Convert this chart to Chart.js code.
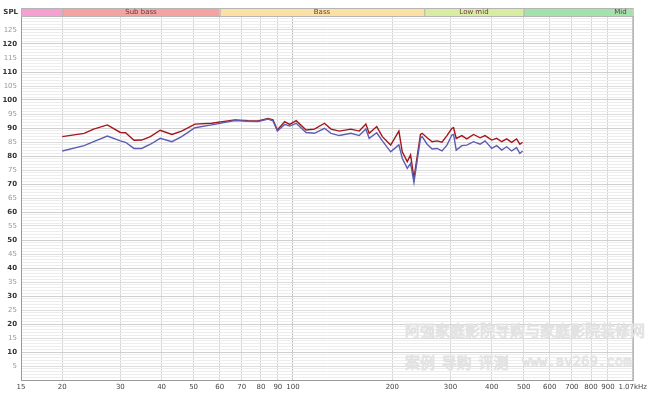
<!DOCTYPE html>
<html>
<head>
<meta charset="utf-8">
<script src="https://cdn.jsdelivr.net/npm/chart.js@4/dist/chart.umd.min.js"></script>
<style>
  html, body { margin: 0; padding: 0; background: #ffffff; }
  canvas { display: block; }
</style>
</head>
<body>
<canvas id="splChart" width="650" height="393"></canvas>
<script>
// ========================================================
// DATOS - respuesta en frecuencia (SPL en dB)
// ========================================================
const frecuencias = [20, 23.3, 24.9, 27.4, 30.0, 31.1, 33.0, 34.8, 37.0, 39.6, 43.0, 46.0, 50.5, 56.7,
    66.7, 73.2, 78.4, 84.0, 87.0, 89.7, 94.4, 97.7, 102.3, 109.6, 116.2, 124.6, 130.4, 138.2,
    149.8, 158.8, 166.3, 170.2, 179.4, 186.6, 197.7, 204.7, 209.4, 214.4, 222.0, 227.2, 232.6,
    243.4, 246.3, 255, 264, 273.3, 282.9, 292.8, 303.1, 306.7, 312.4, 324.9, 336.3, 352.5,
    369, 381.9, 400.2, 414.4, 429, 444.2, 459.7, 475.9, 487, 496.3];

const splRojo = [86.9, 88.1, 89.6, 91.1, 88.4, 88.3, 85.6, 85.7, 86.9, 89.2, 87.7, 88.9, 91.4, 91.7,
    92.9, 92.6, 92.5, 93.4, 92.9, 89.3, 92.3, 91.3, 92.6, 89.3, 89.6, 91.7, 89.6, 88.9,
    89.6, 88.9, 91.4, 88.1, 90.5, 86.9, 83.9, 86.9, 88.9, 81.5, 78.0, 80.4, 72.0,
    87.7, 88.1, 86.5, 85.1, 85.4, 84.9, 87.3, 89.9, 90.1, 86.3, 87.3, 86.1, 87.7,
    86.5, 87.3, 85.7, 86.3, 85.1, 86.1, 84.9, 86.1, 84.2, 84.9];

const splAzul = [81.8, 83.7, 85.1, 87.1, 85.4, 84.9, 82.7, 82.7, 84.2, 86.3, 85.1, 86.9, 90.1, 91.1,
    92.7, 92.4, 92.3, 93.2, 92.6, 88.9, 91.3, 90.7, 91.7, 88.4, 88.1, 89.9, 88.1, 87.3,
    88.1, 87.3, 89.6, 86.3, 88.3, 85.4, 81.5, 83.0, 84.0, 79.2, 75.6, 77.4, 70.6,
    86.3, 86.9, 84.2, 82.5, 82.7, 81.8, 83.9, 87.5, 87.7, 82.1, 83.7, 83.9, 85.1,
    84.2, 85.4, 82.7, 83.7, 82.1, 83.3, 81.8, 83.0, 80.9, 81.8];

const ticksX = [15, 20, 30, 40, 50, 60, 70, 80, 90, 100, 200, 300, 400, 500, 600, 700, 800, 900, 1070];

// bandas del encabezado (nombre y limites en Hz)
const bandasNombre = ['', 'Sub bass', 'Bass', 'Low mid', 'Mid'];
const bandasDesde = [15, 20, 60, 250, 500];
const bandasHasta = [20, 60, 250, 500, 1070];

const coloresBanda = ['#f6a0d2', '#f4a3a1', '#fbe1a3', '#d8eca2', '#a2e2ab'];

function puntos(valores) {
    return frecuencias.map((f, i) => ({ x: f, y: valores[i] }));
}

// ========================================================
// PLUGIN: encabezado de bandas, marco y marca de agua
// ========================================================
const decoracion = {
    id: 'decoracion',
    afterDraw(chart) {
        const ctx = chart.ctx;
        const x = chart.scales.x;
        const area = chart.chartArea;
        ctx.save();

        // marco
        ctx.strokeStyle = '#9a9a9a';
        ctx.lineWidth = 1;
        ctx.strokeRect(area.left + 0.5, area.top + 0.5, area.right - area.left, area.bottom - area.top);

        // bandas
        const yTop = 8, alto = 8;
        bandasNombre.forEach((nombre, i) => {
            const x0 = x.getPixelForValue(bandasDesde[i]);
            const x1 = x.getPixelForValue(bandasHasta[i]);
            ctx.fillStyle = coloresBanda[i];
            ctx.fillRect(x0, yTop, x1 - x0, alto);
            ctx.strokeStyle = '#b5b5b5';
            ctx.strokeRect(x0 + 0.5, yTop + 0.5, x1 - x0, alto);
            if (nombre) {
                ctx.fillStyle = '#6a3b3b';
                ctx.font = '7px "DejaVu Sans"';
                ctx.textBaseline = 'middle';
                if (nombre === 'Mid') {
                    ctx.textAlign = 'right';
                    ctx.fillText(nombre, x1 - 6, yTop + alto / 2 + 0.5);
                } else {
                    ctx.textAlign = 'center';
                    ctx.fillText(nombre, (x0 + x1) / 2, yTop + alto / 2 + 0.5);
                }
            }
        });

        // etiqueta SPL
        ctx.fillStyle = '#333';
        ctx.font = 'bold 7px "DejaVu Sans"';
        ctx.textAlign = 'right';
        ctx.textBaseline = 'middle';
        ctx.fillText('SPL', 18, 12);

        // marca de agua (muy tenue)
        ctx.strokeStyle = '#e2e2e2';
        ctx.lineWidth = 1;
        ctx.textAlign = 'left';
        ctx.textBaseline = 'middle';
        ctx.font = '15px "Noto Sans CJK SC"';
        ctx.strokeText('阿强家庭影院导购与家庭影院装修网', 405, 330);
        ctx.strokeText('案例  导购  评测', 405, 362);
        ctx.font = '14px "DejaVu Sans Mono"';
        ctx.strokeText('www.av269.com', 522, 362);
        ctx.restore();
    }
};

// ========================================================
// GRAFICO
// ========================================================
const ctx = document.getElementById('splChart').getContext('2d');

new Chart(ctx, {
    type: 'line',
    data: {
        datasets: [
            {
                label: 'B',
                data: puntos(splAzul),
                borderColor: '#5b5eb0',
                borderWidth: 1.4,
                pointRadius: 0,
                tension: 0,
                fill: false
            },
            {
                label: 'A',
                data: puntos(splRojo),
                borderColor: '#a3161c',
                borderWidth: 1.4,
                pointRadius: 0,
                tension: 0,
                fill: false
            }
        ]
    },
    options: {
        responsive: false,
        animation: false,
        parsing: false,
        layout: { padding: { top: 16, right: 12, left: 0, bottom: 0 } },
        plugins: { legend: { display: false }, tooltip: { enabled: false } },
        scales: {
            x: {
                type: 'logarithmic',
                min: 15,
                max: 1070,
                afterBuildTicks: (scale) => { scale.ticks = ticksX.map(v => ({ value: v })); },
                afterFit: (scale) => { scale.height = 13; },
                grid: {
                    color: (c) => c.tick && c.tick.value === 100 ? '#c0c0c0' : '#d6d6d6',
                    drawTicks: false
                },
                border: { color: '#8a8a8a' },
                ticks: {
                    autoSkip: false,
                    maxRotation: 0,
                    padding: 3,
                    color: '#444',
                    font: { size: 7, family: '"DejaVu Sans"' },
                    callback: (v) => v === 1070 ? '1.07kHz' : String(v)
                }
            },
            y: {
                min: 0,
                max: 130,
                afterFit: (scale) => { scale.width = 21; },
                grid: {
                    color: (c) => {
                        const v = c.tick ? c.tick.value : 0;
                        if (v % 10 === 0) return '#cfcfcf';
                        if (v % 5 === 0) return '#dcdcdc';
                        return '#ededed';
                    },
                    drawTicks: false
                },
                border: { color: '#8a8a8a' },
                ticks: {
                    stepSize: 1,
                    autoSkip: false,
                    padding: 4,
                    color: (c) => c.tick.value % 10 === 0 ? '#333' : '#999',
                    font: (c) => ({ size: 7, family: '"DejaVu Sans"', weight: c.tick && c.tick.value % 10 === 0 ? 'bold' : 'normal' }),
                    callback: (v) => (v % 5 === 0 && v > 0 && v < 130) ? String(v) : ''
                }
            }
        }
    },
    plugins: [decoracion]
});
</script>
</body>
</html>
